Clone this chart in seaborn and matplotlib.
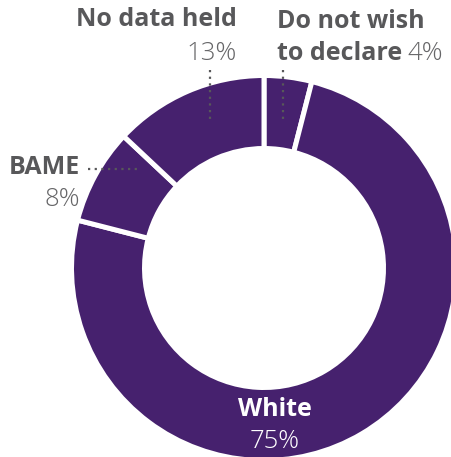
import matplotlib
matplotlib.use("Agg")
import matplotlib.pyplot as plt
import seaborn as sns

# Ethnicity breakdown (percent)
categories = ["Do not wish\nto declare", "White", "BAME", "No data held"]
values = [4, 75, 8, 13]
pct_labels = [f"{v}%" for v in values]

PURPLE = "#46216E"
GREY = "#58585a"
GREY_LIGHT = "#666668"

sns.set_theme(style="white")
plt.rcParams["font.family"] = ["Open Sans", "DejaVu Sans"]

W, H = 451, 457
fig = plt.figure(figsize=(W / 100, H / 100), dpi=100)
ax = fig.add_axes([0, 0, 1, 1])

cx, cy = 264, H - 268
gap = 5
outer, ring = 190 + gap / 2, 68 + gap

ax.pie(values, colors=[PURPLE] * len(values), startangle=90, counterclock=False,
       radius=outer, center=(cx, cy), frame=True,
       wedgeprops=dict(width=ring, edgecolor="white", linewidth=gap * 72 / 100))
ax.set_xlim(0, W)
ax.set_ylim(0, H)
ax.set_aspect("equal")
ax.axis("off")

bold = dict(fontsize=18, fontweight="bold", color=GREY)
light = dict(fontsize=18.5, fontweight="light", color=GREY_LIGHT)

# No data held
ax.text(237, H - 20, "No data held", ha="right", va="center", **bold)
ax.text(237, H - 53, pct_labels[3], ha="right", va="center", **light)
ax.plot([210, 210], [H - 70, H - 122], color=GREY, lw=1.6, ls=(0, (1, 2)))

# Do not wish to declare
ax.text(277, H - 21, "Do not wish", ha="left", va="center", **bold)
t = ax.text(277, H - 53, "to declare", ha="left", va="center", **bold)
fig.canvas.draw()
bb = t.get_window_extent()
x_end = ax.transData.inverted().transform((bb.x1, bb.y0))[0]
ax.text(x_end + 5, H - 53, pct_labels[0], ha="left", va="center", **light)
ax.plot([283, 283], [H - 70, H - 122], color=GREY, lw=1.6, ls=(0, (1, 2)))

# BAME
ax.text(80, H - 167, "BAME", ha="right", va="center", **bold)
ax.text(80, H - 200, pct_labels[2], ha="right", va="center", **light)
ax.plot([88, 140], [H - 169, H - 169], color=GREY, lw=1.6, ls=(0, (1, 2)))

# White
ax.text(275, H - 410, "White", ha="center", va="center",
        fontsize=18, fontweight="bold", color="white")
ax.text(275, H - 442, pct_labels[1], ha="center", va="center",
        fontsize=18.5, fontweight="light", color="white")

fig.savefig("out.png", dpi=100)
